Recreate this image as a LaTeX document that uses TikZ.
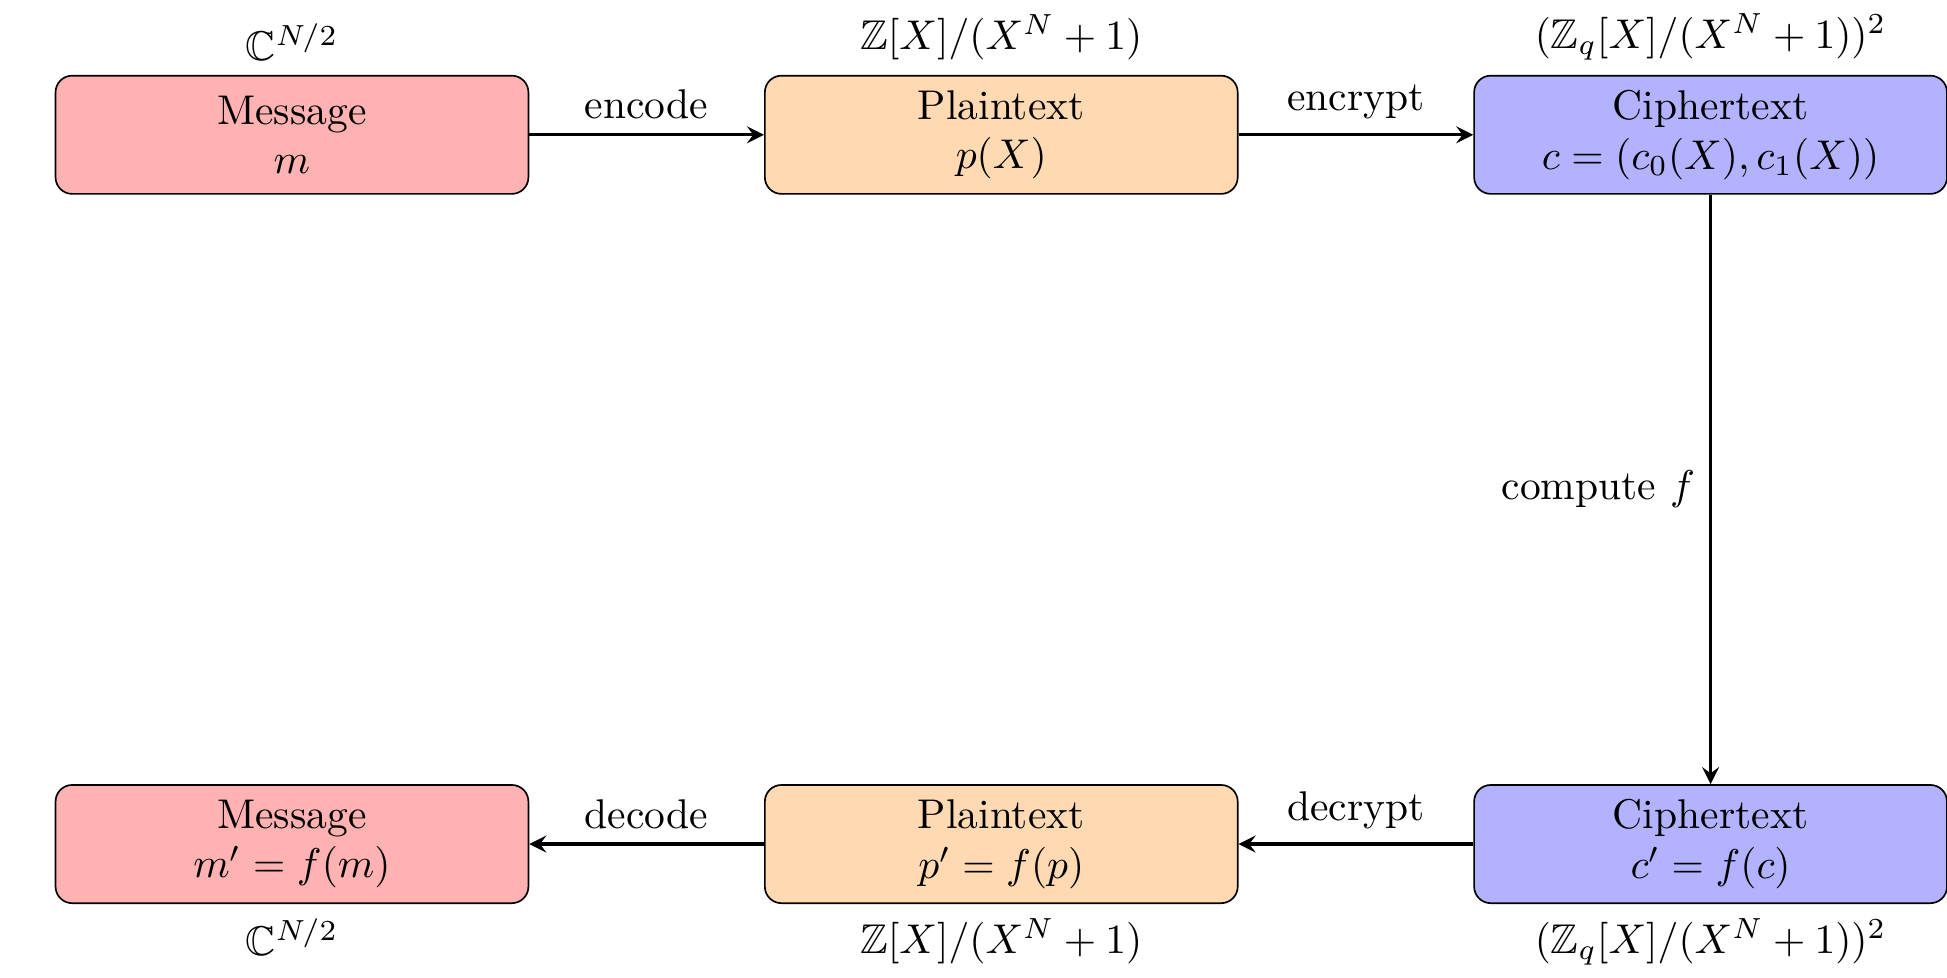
\documentclass[tikz,border=0pt]{standalone}
\usepackage{amsmath}
\usepackage{amssymb}
\usetikzlibrary{positioning}

\begin{document}
\begin{tikzpicture}[
    box/.style={draw, rounded corners, minimum width=4cm, minimum height=1cm, align=center},
    arr/.style={->, thick, >=stealth}
]

    \useasboundingbox (-2.47,-7.13) rectangle (14,1.14);

    % Top row
    \node[box, fill=red!30] (msg) at (0,0) {Message\\$m$};
    \node[box, fill=orange!30] (ptxt) at (6,0) {Plaintext\\$p(X)$};
    \node[box, fill=blue!30] (ctxt) at (12,0) {Ciphertext\\$c = (c_0(X), c_1(X))$};

    % Bottom row
    \node[box, fill=red!30] (msg2) at (0,-6) {Message\\$m' = f(m)$};
    \node[box, fill=orange!30] (ptxt2) at (6,-6) {Plaintext\\$p' = f(p)$};
    \node[box, fill=blue!30] (ctxt2) at (12,-6) {Ciphertext\\$c' = f(c)$};

    % Spaces
    \node[above=0pt of msg] (msgsp) {$\mathbb{C}^{N/2}$};
    \node[above=0pt of ptxt] (ptxtsp) {$\mathbb{Z}[X]/(X^N+1)$};
    \node[above=0pt of ctxt] (ctxtsp) {$(\mathbb{Z}_q[X]/(X^N+1))^2$};
    \node[below=0pt of msg2] (msgsp2) {$\mathbb{C}^{N/2}$};
    \node[below=0pt of ptxt2] (ptxtsp2) {$\mathbb{Z}[X]/(X^N+1)$};
    \node[below=0pt of ctxt2] (ctxtsp2) {$(\mathbb{Z}_q[X]/(X^N+1))^2$};

    % Arrows
    \draw[arr] (msg) -- node[above] {encode} (ptxt);
    \draw[arr] (ptxt) -- node[above] {encrypt} (ctxt);
    \draw[arr] (ctxt) -- node[left] {compute $f$} (ctxt2);
    \draw[arr] (ctxt2) -- node[above] {decrypt} (ptxt2);
    \draw[arr] (ptxt2) -- node[above] {decode} (msg2);

\end{tikzpicture}
\end{document}
